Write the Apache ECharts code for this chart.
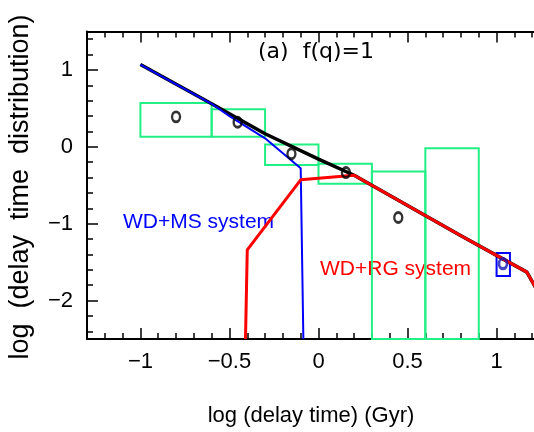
<!DOCTYPE html>
<html lang="en">
<head>
  <meta charset="UTF-8">
  <title>delay time distribution</title>
  <script src="https://cdn.jsdelivr.net/npm/echarts@6/dist/echarts.min.js"></script>
  <style>
    html, body { margin: 0; padding: 0; background: #fff; }
    #chart { width: 534px; height: 432px; }
  </style>
</head>
<body>
  <div id="chart"></div>
  <script>
    // axis ranges and ticks
    const xMin = -1.3, xMax = 1.3;
    const yMin = -2.5, yMax = 1.5;
    const xMajorTicks = [-1, -0.5, 0, 0.5, 1];
    const xTickLabels = ['−1', '−0.5', '0', '0.5', '1'];
    const xMinorTicks = [-1.3, -1.2, -1.1, -0.9, -0.8, -0.7, -0.6, -0.4, -0.3, -0.2, -0.1,
                         0.1, 0.2, 0.3, 0.4, 0.6, 0.7, 0.8, 0.9, 1.1, 1.2, 1.3];
    const yMajorTicks = [-2, -1, 0, 1];
    const yTickLabels = ['−2', '−1', '0', '1'];
    const yMinorTicks = [-2.4, -2.2, -1.8, -1.6, -1.4, -1.2, -0.8, -0.6, -0.4, -0.2,
                         0.2, 0.4, 0.6, 0.8, 1.2, 1.4];

    // observed bins (green boxes)
    const boxX0 = [-1.0, -0.6, -0.3, 0.0, 0.3, 0.6];
    const boxX1 = [-0.6, -0.3, 0.0, 0.3, 0.6, 0.9];
    const boxYlo = [0.13, 0.13, -0.235, -0.48, -2.5, -2.5];
    const boxYhi = [0.57, 0.49, 0.03, -0.22, -0.32, -0.02];
    // late bin (blue box)
    const lateBoxX = [1.0, 1.075];
    const lateBoxY = [-1.68, -1.38];

    // observed points
    const obsX = [-0.80, -0.454, -0.152, 0.154, 0.448];
    const obsY = [0.39, 0.32, -0.09, -0.335, -0.92];
    const latePoint = [1.036, -1.52];

    // model curves
    const totalX = [-1.0, -0.6, -0.3, 0.0, 0.2, 0.795, 1.17, 1.3];
    const totalY = [1.07, 0.56, 0.17, -0.16, -0.37, -1.15, -1.63, -2.16];
    const msX = [-1.0, -0.6, -0.5, -0.3, -0.1, -0.085];
    const msY = [1.07, 0.56, 0.40, 0.11, -0.28, -2.5];
    const rgX = [-0.41, -0.40, -0.1, 0.2, 0.795, 1.17, 1.3];
    const rgY = [-2.5, -1.34, -0.43, -0.37, -1.15, -1.63, -2.16];

    const font = 'Liberation Sans';
    const green = '#22ef84';

    const pairs = (xs, ys) => xs.map((x, i) => [x, ys[i]]);

    function xAxisPart(pos, ticks, len, withLine, withLabels) {
      return {
        type: 'value', position: pos, min: xMin, max: xMax,
        axisLine: { show: withLine, onZero: false, lineStyle: { color: '#000', width: 2 } },
        axisTick: { show: true, inside: true, length: len, customValues: ticks,
                    lineStyle: { color: '#000', width: 1.5 } },
        axisLabel: withLabels ? {
          show: true, customValues: ticks, margin: 12,
          fontFamily: font, fontSize: 22, color: '#000',
          formatter: v => xTickLabels[xMajorTicks.findIndex(t => Math.abs(t - v) < 1e-6)]
        } : { show: false },
        splitLine: { show: false }
      };
    }
    function yAxisPart(pos, ticks, len, withLine, withLabels) {
      return {
        type: 'value', position: pos, min: yMin, max: yMax,
        axisLine: { show: withLine, onZero: false, lineStyle: { color: '#000', width: 2 } },
        axisTick: { show: true, inside: true, length: len, customValues: ticks,
                    lineStyle: { color: '#000', width: 1.5 } },
        axisLabel: withLabels ? {
          show: true, customValues: ticks, margin: 14,
          fontFamily: font, fontSize: 22, color: '#000',
          formatter: v => yTickLabels[yMajorTicks.findIndex(t => Math.abs(t - v) < 1e-6)]
        } : { show: false },
        splitLine: { show: false }
      };
    }

    const chart = echarts.init(document.getElementById('chart'));

    const rectItem = (stroke) => function (params, api) {
      const p0 = api.coord([api.value(0), api.value(3)]);
      const p1 = api.coord([api.value(2), api.value(1)]);
      return {
        type: 'rect',
        shape: { x: p0[0], y: p0[1], width: p1[0] - p0[0], height: p1[1] - p0[1] },
        style: { fill: 'none', stroke: stroke, lineWidth: 2 }
      };
    };

    chart.setOption({
      animation: false,
      backgroundColor: '#fff',
      grid: { left: 87, width: 463, top: 31.5, height: 307.5, outerBoundsMode: 'none', containLabel: false },
      xAxis: [
        xAxisPart('bottom', xMajorTicks, 11, true, true),
        xAxisPart('bottom', xMinorTicks, 6, false, false),
        xAxisPart('top', xMajorTicks, 11, true, false),
        xAxisPart('top', xMinorTicks, 6, false, false)
      ],
      yAxis: [
        yAxisPart('left', yMajorTicks, 11, true, true),
        yAxisPart('left', yMinorTicks, 6, false, false),
        yAxisPart('right', yMajorTicks, 11, true, false),
        yAxisPart('right', yMinorTicks, 6, false, false)
      ],
      series: [
        {
          type: 'custom', name: 'bins',
          renderItem: rectItem(green),
          data: boxX0.map((x0, i) => [x0, boxYlo[i], boxX1[i], boxYhi[i]]),
          encode: { x: [0, 2], y: [1, 3] },
          z: 2
        },
        {
          type: 'custom', name: 'late bin',
          renderItem: rectItem('#0000ff'),
          data: [[lateBoxX[0], lateBoxY[0], lateBoxX[1], lateBoxY[1]]],
          encode: { x: [0, 2], y: [1, 3] },
          z: 2
        },
        {
          type: 'line', name: 'total', data: pairs(totalX, totalY),
          symbol: 'none', lineStyle: { color: '#000', width: 3.5 }, z: 3
        },
        {
          type: 'line', name: 'WD+MS', data: pairs(msX, msY),
          symbol: 'none', lineStyle: { color: '#0000ff', width: 2 }, z: 4
        },
        {
          type: 'line', name: 'WD+RG', data: pairs(rgX, rgY),
          symbol: 'none', lineStyle: { color: '#ff0000', width: 3 }, z: 4
        },
        {
          type: 'scatter', name: 'obs', data: pairs(obsX, obsY),
          symbol: 'circle', symbolSize: [8, 10],
          itemStyle: { color: 'rgba(0,0,0,0)', borderColor: '#000', borderWidth: 2.6 }, z: 5
        },
        {
          type: 'scatter', name: 'late obs', data: [latePoint],
          symbol: 'circle', symbolSize: [8, 10],
          itemStyle: { color: 'rgba(0,0,0,0)', borderColor: '#1414b4', borderWidth: 3 }, z: 5
        }
      ],
      graphic: [
        { type: 'text', x: 316, y: 52,
          style: { text: '(a)  f(q)=1', font: '22px "DejaVu Sans"', fill: '#000',
                   textAlign: 'center', textVerticalAlign: 'middle' } },
        { type: 'text', x: 123, y: 222,
          style: { text: 'WD+MS system', font: '21px "Liberation Sans"', fill: '#0000ff',
                   textAlign: 'left', textVerticalAlign: 'middle' } },
        { type: 'text', x: 320, y: 269,
          style: { text: 'WD+RG system', font: '21px "Liberation Sans"', fill: '#ff0000',
                   textAlign: 'left', textVerticalAlign: 'middle' } },
        { type: 'text', x: 311, y: 416,
          style: { text: 'log (delay time) (Gyr)', font: '22px "Liberation Sans"', fill: '#000',
                   textAlign: 'center', textVerticalAlign: 'middle' } },
        { type: 'text', x: 21, y: 187, rotation: Math.PI / 2,
          style: { text: 'log  (delay  time  distribution)', font: '27px "Liberation Sans"', fill: '#000',
                   textAlign: 'center', textVerticalAlign: 'middle' } }
      ]
    });
  </script>
</body>
</html>
